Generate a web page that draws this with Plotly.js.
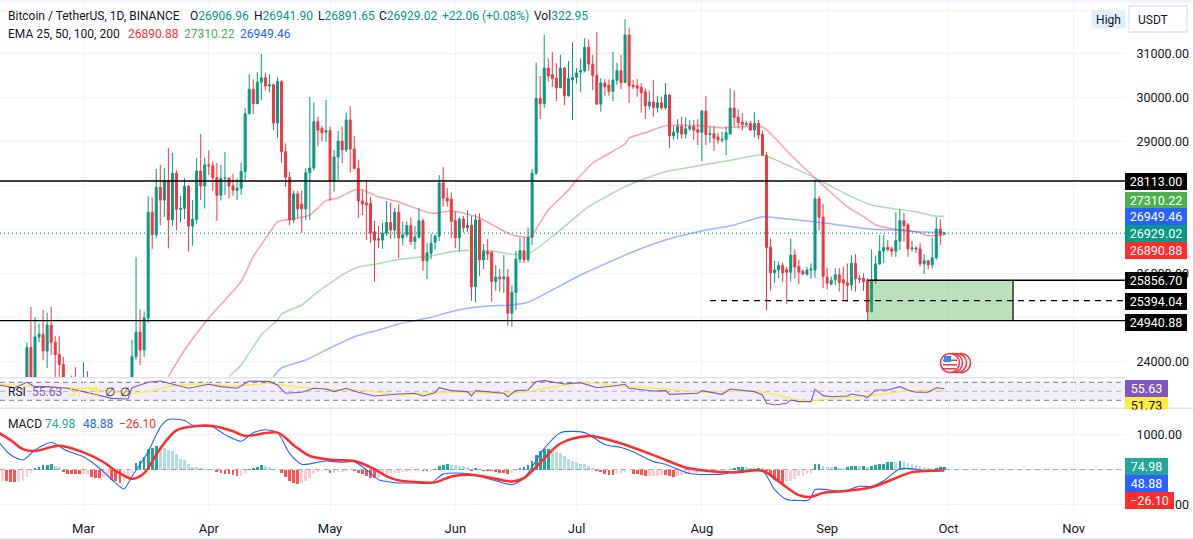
<!DOCTYPE html>
<html><head><meta charset="utf-8">
<script src="https://cdn.plot.ly/plotly-3.0.1.min.js"></script>
<style>html,body{margin:0;padding:0;background:#fff;overflow:hidden}#c{width:1193px;height:539px}</style>
</head><body><div id="c"></div>
<script>
// [open, high, low, close] for each day, starting at the first listed day of the month
const candlesFeb=[[22200,24450,22050,24330],[24330,25250,23340,23520],[23520,25020,23340,24570],[24570,24870,24450,24630],[24630,25180,24040,24250],[24250,25120,23860,24840],[24840,25250,24160,24450],[24450,24590,23600,24170],[24170,24590,23600,23940],[23940,24120,22800,23180],[23180,23220,22700,23160],[23160,23690,22950,23560],[23560,23880,23100,23490],[23490,23600,23000,23140]];
const candlesMar=[[23140,23990,23000,23630],[23630,23790,23200,23470],[23470,23500,22000,22350],[22350,22450,22200,22430],[22430,22600,22200,22410],[22410,22550,22250,22390],[22390,22500,21900,22200],[22200,22250,21600,21700],[21700,21800,20050,20360],[20360,20400,19550,20150],[20150,20700,19950,20450],[20450,22100,20400,21990],[21990,24500,21800,24120],[24120,26390,24050,24680],[24680,25200,23930,24275],[24275,25150,24120,25000],[25000,27760,24890,27400],[27400,27735,26570,26890],[26890,28390,26810,27970],[27970,28480,27110,27680],[27680,28410,27300,28100],[28100,28860,26580,27230],[27230,28760,27090,28290],[28290,28360,27000,27470],[27470,27770,27170,27490],[27490,28180,27250,27990],[27990,28020,26510,27090],[27090,27680,26640,27240],[27240,28630,27140,28340],[28340,29180,27680,28000],[28000,28640,27490,28480]];
const candlesApr=[[28480,28810,28250,28460],[28460,28560,27880,28190],[28190,28520,27210,27790],[27790,28480,27670,28170],[28170,28770,27800,28180],[28180,28190,27720,28000],[28000,28280,27780,27900],[27900,28170,27680,27950],[27950,28530,27800,28330],[28330,29770,28140,29640],[29640,30540,29640,30200],[30200,30420,29640,29870],[29870,30590,29870,30360],[30360,31000,29950,30460],[30460,30575,30170,30270],[30270,30540,30130,30300],[30300,30330,29270,29430],[29430,30470,29100,30370],[30370,30410,28530,28780],[28780,28970,27980,28200],[28200,28320,27110,27230],[27230,27890,27160,27820],[27820,27890,27270,27480],[27590,27900,26940,27480],[27480,28400,27230,28300],[28300,30020,27230,28410],[28410,29900,28360,29460],[29460,29575,28900,29270],[29310,29360,29010,29210],[29220,29960,29000,29260]];
const candlesMay=[[29260,29350,27670,28110],[28110,28820,27870,28660],[28660,29250,28140,29020],[29020,29350,28520,28820],[28820,29670,28770,29500],[29500,29820,28300,28840],[28840,29140,28380,28400],[28400,28600,27270,27660],[27660,27900,27340,27590],[27620,28140,26770,27570],[27600,27750,26710,26930],[26960,27210,25825,26770],[26800,27090,26590,26770],[26770,27165,26570,26930],[26930,27660,26860,27170],[27170,27620,26800,27000],[27000,27500,26810,27400],[27400,27590,26360,26820],[26820,27190,26640,26890],[26890,27190,26830,27100],[27100,27280,26660,26740],[26740,27090,26560,26840],[26840,27510,26800,27210],[27210,27260,26075,26300],[26300,26700,25880,26480],[26470,26910,26330,26700],[26720,26900,26550,26860],[26860,28250,26750,28070],[28070,28430,27530,27720],[27720,27950,27530,27660],[27700,27850,26810,27200]];
const candlesJun=[[27210,27420,26590,26820],[26820,27280,26510,27250],[27250,27320,26940,27050],[27050,27450,26960,27110],[27110,27320,25390,25710],[25710,27360,25350,27230],[27230,27380,25950,26320],[26320,26680,26110,26520],[26510,26790,26320,26460],[26490,26530,25370,25830],[25830,26200,25620,25930],[25930,26120,25600,25890],[25890,26430,25570,25930],[25930,26110,24825,25110],[25110,25750,24800,25580],[25580,26520,25180,26340],[26340,26830,26250,26530],[26530,26840,26250,26320],[26330,27050,26270,26830],[26830,28390,26660,28290],[28290,30800,28250,29990],[29990,30500,29520,29870],[29870,31430,29770,30680],[30680,30900,30370,30500],[30530,31050,30250,30440],[30450,30790,29930,30230],[30230,30980,30230,30680],[30680,30700,29840,30050],[30050,30840,30030,30440],[30410,31265,29500,30470]];
const candlesJul=[[30470,30680,30330,30570],[30590,30900,30140,30620],[30620,31360,30580,31155],[31155,31330,30620,30770],[30770,30980,30180,30510],[30510,31500,29840,29860],[29860,30450,29690,30340],[30340,30430,30050,30260],[30290,30420,30050,30150],[30150,31050,29930,30410],[30400,30800,30300,30620],[30620,30980,30200,30350],[30350,31790,30340,31430],[31430,31600,29890,30270],[30290,30410,30200,30260],[30280,30430,30030,30220],[30240,30340,29670,30120],[30140,30220,29520,29820],[29820,30170,29740,29910],[29910,30410,29580,29780],[29780,30050,29670,29890],[29890,30030,29730,29780],[29780,30340,29730,30070],[30070,30080,28870,29140],[29140,29360,29050,29220],[29220,29520,29060,29350],[29350,29570,29075,29180],[29180,29560,29085,29300],[29300,29500,29260,29350],[29350,29500,29050,29270],[29280,29520,28930,29220]];
const candlesAug=[[29220,29730,28570,29700],[29700,30050,28930,29170],[29170,29340,28980,29190],[29190,29350,28800,29090],[29110,29210,28960,29050],[29040,29235,28990,29060],[29050,29350,28700,29210],[29180,30220,29180,29770],[29770,30170,29350,29560],[29560,29740,29310,29440],[29450,29660,29260,29400],[29400,29480,29360,29420],[29420,29480,29270,29270],[29270,29675,29100,29420],[29420,29500,29060,29160],[29170,29260,28700,28700],[28700,28770,25170,26600],[26610,26810,25620,26030],[26030,26300,25800,26090],[26090,26280,25900,26190],[26190,26250,25825,26030],[26100,26160,25320,26040],[26040,26810,25825,26430],[26430,26560,25900,26160],[26170,26320,25770,26040],[26060,26100,25980,26000],[26000,26160,25950,26090],[26090,26240,25890,26110],[26090,28140,25910,27710],[27710,27770,27000,27290],[27290,27590,25675,25940]];
const candlesSep=[[25925,26140,25650,25790],[25770,25940,25750,25860],[25870,26130,25750,25980],[25980,26130,25600,25810],[25870,26170,25410,25790],[25800,26240,25360,25735],[25750,26430,25620,26240],[26240,26450,25600,25900],[25900,25980,25790,25880],[25900,26015,25620,25825],[25860,25900,24920,25140],[25140,26560,25130,25860],[25840,26420,25780,26230],[26230,26890,26200,26520],[26520,26890,26250,26600],[26600,26770,26510,26560],[26570,26620,26390,26520],[26520,27400,26390,26760],[26750,27475,26550,27210],[27210,27390,26730,27100],[27115,27165,26390,26570],[26570,26750,26510,26590],[26590,26630,26480,26570],[26570,26700,26170,26230],[26230,26450,26000,26300],[26300,26320,26100,26210],[26210,26830,26120,26370],[26370,27290,26320,27020],[27020,27240,26660,26890],[26906.96,26941.90,26891.65,26929.02]];

const ema25Dates=['03-22','03-26','04-01','04-09','04-12','04-16','04-18','04-22','04-26','04-30','05-03','05-07','05-09','05-13','05-18','05-26','05-31','06-03','06-07','06-11','06-15','06-19','06-20','06-24','06-29','07-01','07-05','07-13','07-14','07-18','07-23','08-01','08-06','08-16','08-23','08-30','09-06','09-10','09-13','09-18','09-23','09-26','09-30'];
const ema25Values=[23666,24273,25000,25825,26393,26932,27189,27250,27341,27666,27727,27909,27909,27757,27636,27380,27432,27386,27273,27075,26886,26834,26886,27455,27909,28136,28523,28955,29091,29211,29370,29370,29318,29340,28705,28098,27530,27302,27114,27016,26961,26870,26890.88];
const ema50Dates=['04-06','04-09','04-14','04-18','04-19','04-24','04-27','04-30','05-05','05-08','05-12','05-18','05-22','05-26','05-31','06-05','06-10','06-15','06-19','06-26','07-04','07-13','07-17','07-23','08-07','08-16','08-23','08-30','09-07','09-12','09-18','09-23','09-27','09-30'];
const ema50Values=[23666,23932,24614,24955,25091,25295,25523,25727,26030,26159,26220,26330,26370,26409,26507,26539,26523,26448,26455,26925,27530,27984,28136,28325,28568,28705,28439,28136,27757,27568,27477,27416,27325,27310.22];
const ema100Dates=['04-17','04-19','04-25','05-01','05-07','05-13','05-18','05-26','05-30','06-04','06-09','06-15','06-19','06-25','07-02','07-15','07-23','08-01','08-09','08-16','08-23','09-01','09-07','09-12','09-18','09-23','09-27','09-30'];
const ema100Values=[23666,23864,24045,24318,24575,24727,24864,25016,25120,25220,25273,25295,25357,25636,25977,26507,26773,26977,27114,27302,27243,27152,27075,27016,27000,26960,26950,26949.46];

const rsiDates=['02-08','02-12','02-15','02-17','02-20','02-25','03-01','03-05','03-08','03-12','03-13','03-15','03-17','03-20','03-23','03-27','04-01','04-04','04-08','04-11','04-16','04-18','04-20','04-24','04-27','04-30','05-02','05-05','05-08','05-12','05-18','05-22','05-24','05-27','05-28','05-31','06-04','06-05','06-06','06-13','06-14','06-16','06-19','06-21','06-23','06-28','07-02','07-06','07-10','07-13','07-14','07-20','07-23','07-24','07-31','08-01','08-06','08-08','08-14','08-16','08-17','08-19','08-22','08-23','08-25','08-28','08-29','08-31','09-02','09-06','09-07','09-10','09-11','09-13','09-16','09-19','09-21','09-23','09-26','09-28','09-30'];
const rsiValues=[64,58,70,60.4,60.4,56.7,49.3,40.4,34.4,33,58,64,70,73,65.6,56.7,65.6,60.4,56.7,73,71.5,64,45.6,47.8,56.7,55.2,49.3,56.7,47.8,39.6,44,45.6,39.6,47,58,51.5,49.3,39.6,51.5,45.6,38,51.5,53,71.5,73.7,66.3,69.3,58,61.9,65.6,56.7,50.7,51.5,43.3,45.6,51.5,43.3,55.2,49.3,41.9,23.3,19.6,23.3,30.7,27,27,54.4,40.4,38,39.6,44,39.6,36,53,53,60.4,53,47.8,47.8,58,55.63];
const rsiMaDates=['02-08','02-17','02-25','03-04','03-11','03-17','03-23','03-30','04-08','04-16','04-22','04-27','05-04','05-10','05-18','05-22','05-26','06-04','06-12','06-19','06-24','07-03','07-11','07-23','08-01','08-14','08-25','08-28','09-03','09-09','09-15','09-21','09-30'];
const rsiMaValues=[65.6,60.4,58,55,45.6,49.3,61.9,66.3,61.9,67.8,60.4,56.7,53,51.5,41.9,43.3,47,47.8,45.6,49.3,58,70,62.6,55.2,47.8,50.7,30.7,28.5,34.4,39.6,44,51.5,51.73];

const macdDates=['02-08','02-11','02-14','02-17','02-21','02-25','03-01','03-05','03-08','03-11','03-13','03-17','03-20','03-22','03-26','03-28','04-02','04-05','04-09','04-12','04-15','04-18','04-21','04-24','04-28','04-30','05-04','05-07','05-10','05-13','05-16','05-18','05-22','05-26','05-29','06-04','06-10','06-15','06-18','06-23','06-27','07-03','07-08','07-12','07-15','07-20','07-23','07-29','08-06','08-09','08-16','08-19','08-22','08-25','08-27','08-28','08-29','09-05','09-09','09-12','09-15','09-19','09-23','09-26','09-30'];
const macdValues=[785,411,271,552,767,524,365,37,-290,-552,-196,505,1206,1421,1393,1253,1206,991,804,1047,1131,1047,458,150,206,243,206,224,-9,-290,-355,-383,-383,-383,-131,-112,-290,-430,-243,598,1047,1047,711,626,505,224,150,-112,-131,-56,-37,-570,-851,-879,-879,-804,-570,-617,-477,-477,-318,19,9,-56,48.88];
const signalDates=['02-08','02-11','02-14','02-17','02-23','03-01','03-06','03-09','03-13','03-16','03-20','03-24','03-29','04-02','04-07','04-10','04-18','04-22','04-26','05-02','05-07','05-12','05-15','05-18','05-22','05-27','05-31','06-04','06-08','06-15','06-18','06-23','06-27','07-04','07-12','07-21','07-28','08-01','08-09','08-16','08-20','08-25','08-28','08-31','09-05','09-12','09-17','09-22','09-30'];
const signalValues=[1047,832,580,524,673,486,206,-37,-262,-103,598,1113,1234,1234,1085,954,1047,692,383,271,243,9,-196,-309,-355,-365,-196,-150,-196,-337,-243,318,739,954,739,365,56,-19,-84,-37,-337,-729,-776,-664,-617,-505,-290,-75,-26.10];

const histFeb=[-320,-340,-350,-360,-350,-330,-200,-90,50,80,120,140,160,110,60,-60,-120,-130,-135,-140];
const histMar=[-130,-125,-200,-230,-240,-215,-190,-290,-340,-370,-340,-250,-120,180,245,365,580,600,670,620,600,555,525,430,300,270,150,85,65,40,28];
const histApr=[28,10,-60,-100,-120,-140,-160,-175,-170,-100,25,55,80,115,90,70,5,-10,-100,-200,-320,-380,-400,-390,-320,-240,-120,-70,-40,-30];
const histMay=[-100,-85,-65,-60,-30,-20,-35,-100,-130,-170,-240,-250,-240,-150,-120,-110,-100,-90,-80,-60,-50,-45,-40,-50,-55,-30,20,100,130,170,120];
const histJun=[115,110,100,75,-40,30,-10,-35,-40,-45,-60,-85,-100,-120,-90,-50,40,70,120,240,400,520,570,590,540,510,470,390,300,240];
const histJul=[210,160,150,100,40,-40,-70,-130,-150,-160,-130,-125,-80,-50,-130,-140,-150,-190,-185,-180,-170,-160,-165,-190,-200,-170,-150,-130,-110,-100,-85];
const histAug=[-65,-75,-60,-40,-30,-25,-20,-10,30,65,70,60,55,30,40,30,-40,-180,-300,-340,-370,-340,-320,-260,-190,-170,-130,-90,150,170,110];
const histSep=[85,60,70,55,55,60,90,100,95,100,75,105,130,150,170,220,225,220,240,240,190,150,130,90,70,30,25,55,65,74.98];

const monthTicks=['2023-03-01','2023-04-01','2023-05-01','2023-06-01','2023-07-01','2023-08-01','2023-09-01','2023-10-01','2023-11-01'];
const monthLabels=['Mar','Apr','May','Jun','Jul','Aug','Sep','Oct','Nov'];
const priceTicks=[24000,25000,26000,27000,28000,29000,30000,31000,32000];
const priceTickLabels=['24000.00','','26000.00','','','29000.00','30000.00','31000.00',''];
const rsiLevels=[70,50,30];
const macdTicks=[-1000,0,1000];
const macdTickLabels=['−1000.00','','1000.00'];
const levelTop=28113.00, levelZoneTop=25856.70, levelMid=25394.04, levelBottom=24940.88, lastPrice=26929.02;
const ema25Last=26890.88, ema50Last=27310.22, ema100Last=26949.46;
const zoneStart='2023-09-11', zoneEnd='2023-10-17', midStart='2023-08-03';

const W=1193,H=539,PW=1125;
const px=x=>x/W, py=y=>1-y/H;
const pad=n=>String(n).padStart(2,'0');
const d23=a=>a.map(s=>'2023-'+s);
function days(month,first,n){const o=[];for(let i=0;i<n;i++){const D=new Date(Date.UTC(2023,month-1,first+i));o.push(D.getUTCFullYear()+'-'+pad(D.getUTCMonth()+1)+'-'+pad(D.getUTCDate()));}return o;}

const cm=[[2,15,candlesFeb],[3,1,candlesMar],[4,1,candlesApr],[5,1,candlesMay],[6,1,candlesJun],[7,1,candlesJul],[8,1,candlesAug],[9,1,candlesSep]];
let cx=[],co=[],ch=[],cl=[],cc=[];
cm.forEach(([m,f,r])=>{cx=cx.concat(days(m,f,r.length));r.forEach(v=>{co.push(v[0]);ch.push(v[1]);cl.push(v[2]);cc.push(v[3]);});});
const hm=[[2,9,histFeb],[3,1,histMar],[4,1,histApr],[5,1,histMay],[6,1,histJun],[7,1,histJul],[8,1,histAug],[9,1,histSep]];
let hx=[],hy=[];
hm.forEach(([m,f,r])=>{hx=hx.concat(days(m,f,r.length));hy=hy.concat(r);});
const hc=hy.map((v,i)=>{const p=i?hy[i-1]:v;return v>=0?(v>p?'#26A69A':'#B2DFDB'):(v<p?'#FF5252':'#FFCDD2');});

const GREEN='#089981',RED='#F23645',INK='#131722',GRID='#F0F3FA';
const line=(x,y,c,w,ya,sm)=>({type:'scatter',mode:'lines',x:x,y:y,yaxis:ya,line:sm?{color:c,width:w,shape:'spline',smoothing:sm}:{color:c,width:w},hoverinfo:'skip'});
const traces=[
 {type:'candlestick',x:cx,open:co,high:ch,low:cl,close:cc,yaxis:'y',
  increasing:{line:{color:GREEN,width:1},fillcolor:GREEN},decreasing:{line:{color:RED,width:1},fillcolor:RED},hoverinfo:'skip'},
 line(d23(ema25Dates),ema25Values,'rgba(242,54,69,0.45)',1.5,'y',0.5),
 line(d23(ema50Dates),ema50Values,'rgba(76,175,80,0.45)',1.5,'y',0.5),
 line(d23(ema100Dates),ema100Values,'rgba(41,98,255,0.45)',1.5,'y',0.5),
 line(d23(rsiMaDates),rsiMaValues,'#FFEB3B',1.3,'y2',0.6),
 line(d23(rsiDates),rsiValues,'#7E57C2',1.1,'y2'),
 {type:'bar',x:hx,y:hy,yaxis:'y3',marker:{color:hc,line:{width:0}},width:0.68*86400000,hoverinfo:'skip'},
 line(d23(macdDates),macdValues,'#2962FF',1.1,'y3',0.7),
 line(d23(signalDates),signalValues,'#FF2D2D',2.5,'y3',0.9)
];

const shapes=[];
const pr=(x0,y0,x1,y1,fill,layer)=>shapes.push({type:'rect',xref:'paper',yref:'paper',x0:px(x0),x1:px(x1),y0:py(y0),y1:py(y1),fillcolor:fill,line:{width:0},layer:layer||'above'});
// RSI band and levels
shapes.push({type:'rect',xref:'paper',yref:'y2',x0:0,x1:px(PW),y0:rsiLevels[2],y1:rsiLevels[0],fillcolor:'rgba(126,87,194,0.1)',line:{width:0},layer:'below'});
rsiLevels.forEach((v,i)=>shapes.push({type:'line',xref:'paper',yref:'y2',x0:0,x1:px(PW),y0:v,y1:v,line:{color:i==1?'rgba(120,123,134,0.5)':'#787B86',width:1,dash:'5px 4px'},layer:'below'}));
shapes.push({type:'line',xref:'paper',yref:'y3',x0:0,x1:px(PW),y0:0,y1:0,line:{color:'rgba(120,123,134,0.6)',width:1,dash:'5px 4px'},layer:'above'});
// Price levels
const hl=(v,x0,xr,dash,col,w)=>shapes.push({type:'line',xref:xr,yref:'y',x0:x0,x1:xr=='paper'?px(PW):'2023-11-13 16:48',y0:v,y1:v,line:{color:col||'#000',width:w||1.4,dash:dash||'solid'},layer:'above'});
shapes.push({type:'line',xref:'paper',yref:'y',x0:0,x1:px(PW),y0:lastPrice,y1:lastPrice,line:{color:GREEN,width:1.2,dash:'1px 3px'},layer:'above'});
shapes.push({type:'rect',xref:'x',yref:'y',x0:zoneStart,x1:zoneEnd,y0:levelBottom,y1:levelZoneTop,fillcolor:'rgba(76,175,80,0.38)',line:{width:0},layer:'above'});
shapes.push({type:'line',xref:'x',yref:'y',x0:zoneEnd,x1:zoneEnd,y0:levelBottom,y1:levelZoneTop,line:{color:'#000',width:1.2},layer:'above'});
hl(levelTop,0,'paper');
hl(levelBottom,0,'paper');
hl(levelZoneTop,zoneStart,'x');
hl(levelMid,midStart,'x','6px 5px');
// Pane separators and page strips
pr(0,377,PW,378.5,'#E0E3EB','above');
pr(0,407.5,W,409,'#E0E3EB','above');
pr(0,0,W,2.5,'#F0F3FA');
pr(0,537,W,539,'#F0F3FA');
// USDT button
shapes.push({type:'rect',xref:'paper',yref:'paper',x0:px(1129),x1:px(1187),y0:py(6),y1:py(32),fillcolor:'#fff',line:{color:'#E0E3EB',width:1.3},layer:'above'});
// Currency event icon
[961,957,953,950].forEach(c=>shapes.push({type:'circle',xref:'paper',yref:'paper',x0:px(c-9.5),x1:px(c+9.5),y0:py(363-9.5),y1:py(363+9.5),fillcolor:'#fff',line:{color:'#F23645',width:1.6},layer:'above'}));
pr(943,359.5,957,361,'#F23645');pr(943,364,957,365.5,'#F23645');pr(943,368,956,369.5,'#F23645');
pr(944,356,951,362,'#2F8FEA');

const ann=[];
const FONT='Roboto,"Noto Sans",sans-serif';
const txt=(x,y,t,c,size)=>ann.push({xref:'paper',yref:'paper',x:px(x),y:py(y),xanchor:'left',yanchor:'middle',text:t,showarrow:false,font:{family:FONT,size:size||12,color:c||INK},borderpad:0,borderwidth:0});
txt(8,16,'Bitcoin / TetherUS, 1D, BINANCE');
txt(190,16,'O<span style="color:#089981">26906.96</span>');
txt(254,16,'H<span style="color:#089981">26941.90</span>');
txt(318,16,'L<span style="color:#089981">26891.65</span>');
txt(379,16,'C<span style="color:#089981">26929.02</span>');
txt(442,16,'+22.06 (+0.08%)',GREEN);
txt(534,16,'Vol<span style="color:#089981">322.95</span>');
txt(8,34,'EMA 25, 50, 100, 200');
txt(128,34,'26890.88','#FF2D2D');
txt(184,34,'27310.22','#4CAF50');
txt(240,34,'26949.46','#2962FF');
txt(8,392,'RSI');
txt(32,392,'55.63','#7E57C2');
txt(69,392,'51.73','#FFEB3B');
txt(105,392,'∅');
txt(120,392,'∅');
txt(8,424,'MACD');
txt(45,424,'74.98','#26A69A');
txt(83,424,'48.88','#2962FF');
txt(119,424,'−26.10','#FF2D2D');
ann.push({xref:'paper',yref:'paper',x:px(1091),y:py(19.5),xanchor:'left',yanchor:'middle',width:33,height:17,text:'High',showarrow:false,bgcolor:'#E3EFFD',font:{family:FONT,size:12,color:INK},borderpad:0});
txt(1138,19.5,'USDT');
const tag=(cy,x1,t,bg,fg,h)=>ann.push({xref:'paper',yref:'paper',x:px(PW),y:py(cy),xanchor:'left',yanchor:'middle',width:x1-PW,height:h||17,text:t,showarrow:false,bgcolor:bg,align:'center',font:{family:FONT,size:12.5,color:fg||'#fff'},borderpad:0,borderwidth:0});
tag(181.3,1187,levelTop.toFixed(2),'#000');
tag(200,1187,ema50Last.toFixed(2),'#4CAF50');
tag(216.8,1187,ema100Last.toFixed(2),'#2962FF');
tag(233.6,1187,lastPrice.toFixed(2),GREEN);
tag(250.5,1187,ema25Last.toFixed(2),'#FF2D2D');
tag(280.7,1187,levelZoneTop.toFixed(2),'#000');
tag(301.7,1187,levelMid.toFixed(2),'#000');
tag(322,1187,levelBottom.toFixed(2),'#000');
tag(388.2,1168,'55.63','#7E57C2');
tag(405.5,1168,'51.73','#FFEB3B',INK);
ann.push({xref:'paper',yref:'paper',x:px(PW-1),y:py(409),xanchor:'left',yanchor:'top',width:W-PW+1,height:6,text:' ',showarrow:false,bgcolor:'#fff',borderpad:0});
tag(466.5,1168,'74.98','#26A69A');
tag(483.8,1168,'48.88','#2962FF');
tag(500.4,1174,'−26.10','#FF2D2D');

const tick={family:FONT,size:12.5,color:INK};
const yax=(dom,rng,vals,labels)=>({domain:[py(dom[1]),py(dom[0])],range:rng,side:'right',anchor:'x',tickmode:'array',tickvals:vals,ticktext:labels,tickfont:tick,ticks:'outside',ticklen:8,tickcolor:'rgba(0,0,0,0)',gridcolor:GRID,gridwidth:1,zeroline:false,showline:false,fixedrange:true});
const layout={
 width:W,height:H,margin:{l:0,r:0,t:0,b:0},paper_bgcolor:'#fff',plot_bgcolor:'#fff',showlegend:false,bargap:0,font:{family:FONT},
 xaxis:{domain:[0,px(PW)],type:'date',range:['2023-02-08 08:10','2023-11-13 16:48'],anchor:'y3',tickmode:'array',tickvals:monthTicks,ticktext:monthLabels,tickfont:{family:FONT,size:13,color:INK},ticks:'outside',ticklen:6,tickcolor:'rgba(0,0,0,0)',gridcolor:GRID,gridwidth:1,zeroline:false,showline:false,rangeslider:{visible:false},fixedrange:true},
 yaxis:yax([3,378],[23636,32159],priceTicks,priceTickLabels),
 yaxis2:Object.assign(yax([378,408],[12.9,79.6],[],[]),{showgrid:false}),
 yaxis3:yax([408,510],[-1150,1747],macdTicks,macdTickLabels),
 shapes:shapes,annotations:ann
};
Plotly.newPlot('c',traces,layout,{displayModeBar:false,staticPlot:true});
</script></body></html>
